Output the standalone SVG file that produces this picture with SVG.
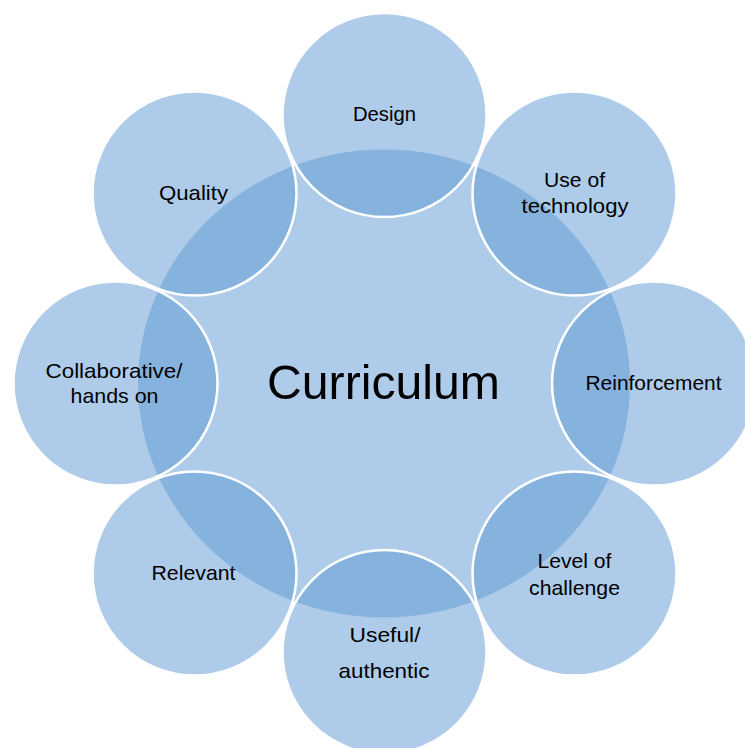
<svg xmlns="http://www.w3.org/2000/svg" width="745" height="748" viewBox="0 0 745 748">
<style>
.center{fill:#aecce9;}
.sat{fill:#5d99d3;fill-opacity:0.5;stroke:#ffffff;stroke-width:2.5;}
text{font-family:"Liberation Sans",Arial,sans-serif;fill:#000000;text-anchor:middle;}
.lbl{font-size:21px;}
.big{font-size:48px;}
</style>
<rect width="745" height="748" fill="#ffffff"/>
<g id="curriculum">
<ellipse class="center" cx="384" cy="383.5" rx="246" ry="234"/>
</g>
<g id="connectors"></g>
<g id="design"><circle class="sat" cx="384.5" cy="115" r="102"/></g>
<g id="use-of-technology"><circle class="sat" cx="574.5" cy="193.5" r="102"/></g>
<g id="reinforcement"><circle class="sat" cx="654" cy="383.5" r="102"/></g>
<g id="level-of-challenge"><circle class="sat" cx="574.5" cy="573.5" r="102"/></g>
<g id="useful-authentic"><circle class="sat" cx="384.5" cy="652" r="102"/></g>
<g id="relevant"><circle class="sat" cx="194.5" cy="573.5" r="102"/></g>
<g id="collaborative"><circle class="sat" cx="115.5" cy="383.5" r="102"/></g>
<g id="quality"><circle class="sat" cx="194.5" cy="193.5" r="102"/></g>
<g id="labels">
<text class="big" x="383.5" y="399" textLength="233" lengthAdjust="spacingAndGlyphs">Curriculum</text>
<text class="lbl" x="384.5" y="120.5" textLength="63" lengthAdjust="spacingAndGlyphs">Design</text>
<text class="lbl" x="193.5" y="200" textLength="69" lengthAdjust="spacingAndGlyphs">Quality</text>
<text class="lbl" x="574.5" y="186.5" textLength="61" lengthAdjust="spacingAndGlyphs">Use of</text>
<text class="lbl" x="575" y="212.5" textLength="107" lengthAdjust="spacingAndGlyphs">technology</text>
<text class="lbl" x="653.5" y="389.5" textLength="136" lengthAdjust="spacingAndGlyphs">Reinforcement</text>
<text class="lbl" x="574.5" y="567.5" textLength="74" lengthAdjust="spacingAndGlyphs">Level of</text>
<text class="lbl" x="574.5" y="594.5" textLength="91" lengthAdjust="spacingAndGlyphs">challenge</text>
<text class="lbl" x="385" y="641.5" textLength="71" lengthAdjust="spacingAndGlyphs">Useful/</text>
<text class="lbl" x="384" y="677.5" textLength="91" lengthAdjust="spacingAndGlyphs">authentic</text>
<text class="lbl" x="193.5" y="580" textLength="84" lengthAdjust="spacingAndGlyphs">Relevant</text>
<text class="lbl" x="114" y="377.5" textLength="137" lengthAdjust="spacingAndGlyphs">Collaborative/</text>
<text class="lbl" x="114.5" y="403" textLength="88" lengthAdjust="spacingAndGlyphs">hands on</text>
</g>
</svg>
